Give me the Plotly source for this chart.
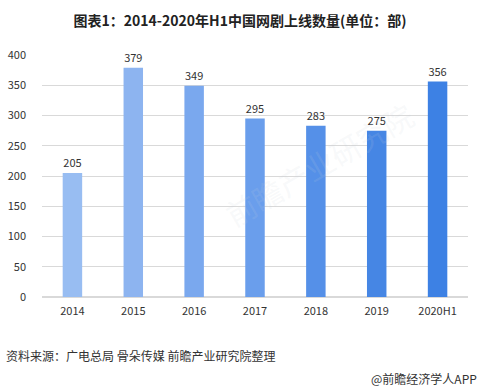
import plotly.graph_objects as go

categories = ["2014", "2015", "2016", "2017", "2018", "2019", "2020H1"]
values = [205, 379, 349, 295, 283, 275, 356]
bar_colors = ["#98BDF2", "#8DB4F0", "#7AA8EE", "#6A9EEC", "#5590E8", "#4686E4", "#3D81E4"]
y_ticks = [0, 50, 100, 150, 200, 250, 300, 350, 400]

FONT = "Noto Sans CJK SC, Microsoft YaHei, sans-serif"

fig = go.Figure()
fig.add_trace(go.Bar(
    x=categories, y=values,
    marker=dict(color=bar_colors, line=dict(width=0)),
    width=0.32,
    text=[str(v) for v in values],
    textposition="outside",
    textfont=dict(size=11, color="#333333", family=FONT),
    cliponaxis=False,
))

fig.update_layout(
    width=480, height=388,
    margin=dict(l=42, r=12, t=55, b=91, autoexpand=False),
    paper_bgcolor="white", plot_bgcolor="white",
    showlegend=False,
    font=dict(family=FONT, size=11, color="#333333"),
    title=dict(text="<b>图表1：2014-2020年H1中国网剧上线数量(单位：部)</b>",
               x=0.5, xanchor="center", y=0.945, yanchor="middle",
               font=dict(size=14, color="#222222", family=FONT)),
    xaxis=dict(showgrid=False, showline=False, ticks="",
               tickfont=dict(size=11, color="#333333"), ticklabelstandoff=6),
    yaxis=dict(range=[0, 400], tickvals=y_ticks, showgrid=True, gridcolor="#D9D9D9",
               gridwidth=1, zeroline=True, zerolinecolor="#D9D9D9", ticks="",
               tickfont=dict(size=11, color="#333333"), ticklabelstandoff=15),
)

# faint watermark
fig.add_annotation(text="前瞻产业研究院", xref="paper", yref="paper", x=0.65, y=0.55,
                   showarrow=False, textangle=-30,
                   font=dict(size=30, color="rgba(200,208,220,0.14)", family=FONT))

fig.add_annotation(text="资料来源：广电总局 骨朵传媒 前瞻产业研究院整理",
                   xref="paper", yref="paper", x=-0.09, y=-0.24,
                   xanchor="left", yanchor="middle", showarrow=False,
                   font=dict(size=12, color="#333333", family=FONT))
fig.add_annotation(text="@前瞻经济学人APP",
                   xref="paper", yref="paper", x=1.025, y=-0.335,
                   xanchor="right", yanchor="middle", showarrow=False,
                   font=dict(size=12, color="#333333", family=FONT))

fig.write_html("out.html", config={"displayModeBar": False},
               post_script="document.body.style.margin='0';")
